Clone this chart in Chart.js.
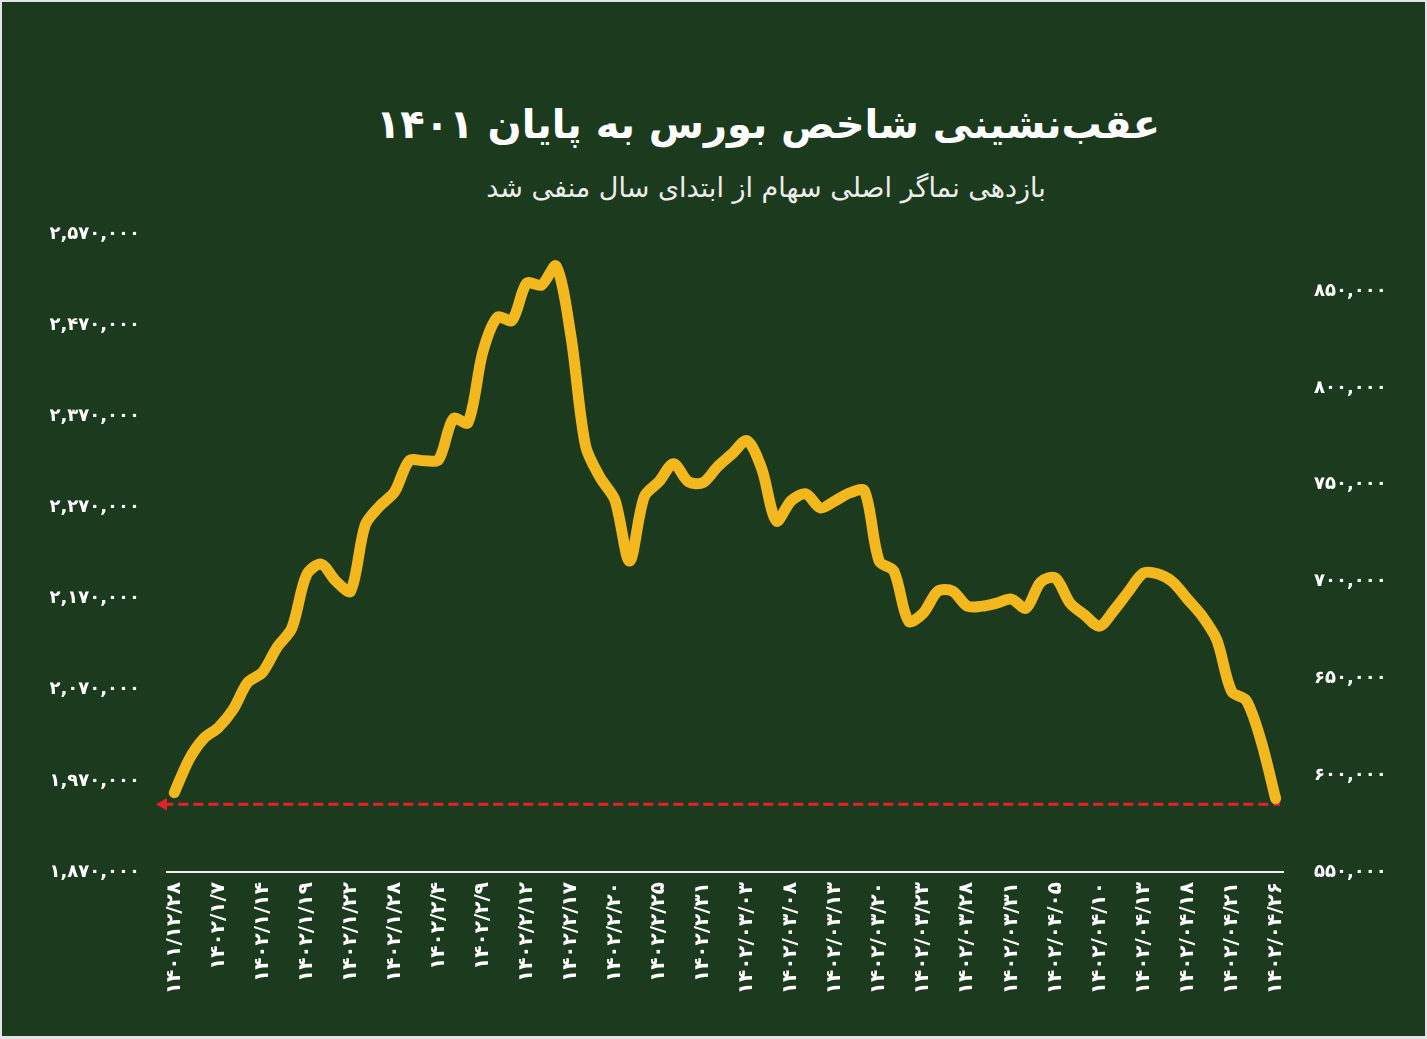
<!DOCTYPE html>
<html>
<head>
<meta charset="utf-8">
<script src="https://cdn.jsdelivr.net/npm/chart.js@4.4.0/dist/chart.umd.min.js"></script>
<style>
  html, body { margin: 0; padding: 0; width: 1427px; height: 1039px; overflow: hidden; background: #e4e4e4; }
  #frame { position: absolute; left: 2px; top: 2px; width: 1423px; height: 1034px; background: #1c3a1e; }
  .ttl { position: absolute; direction: rtl; text-align: center; color: #ffffff; font-family: "DejaVu Sans", "Noto Sans", sans-serif; white-space: nowrap; }
  #title { left: 268px; width: 1000px; top: 101px; font-size: 40px; font-weight: bold; }
  #subtitle { left: 266px; width: 1000px; top: 172px; font-size: 27px; color: #ededed; }
  #c { position: absolute; left: 0; top: 0; }
</style>
</head>
<body>
<div id="frame"></div>
<div id="title" class="ttl">عقب‌نشینی شاخص بورس به پایان ۱۴۰۱</div>
<div id="subtitle" class="ttl">بازدهی نماگر اصلی سهام از ابتدای سال منفی شد</div>
<canvas id="c" width="1427" height="1039"></canvas>
<script>
// ---- data ----
const xLabels = [
  '۱۴۰۱/۱۲/۲۸','۱۴۰۲/۱/۷','۱۴۰۲/۱/۱۴','۱۴۰۲/۱/۱۹','۱۴۰۲/۱/۲۲','۱۴۰۲/۱/۲۸',
  '۱۴۰۲/۲/۴','۱۴۰۲/۲/۹','۱۴۰۲/۲/۱۲','۱۴۰۲/۲/۱۷','۱۴۰۲/۲/۲۰','۱۴۰۲/۲/۲۵',
  '۱۴۰۲/۲/۳۱','۱۴۰۲/۰۳/۰۳','۱۴۰۲/۰۳/۰۸','۱۴۰۲/۰۳/۱۳','۱۴۰۲/۰۳/۲۰','۱۴۰۲/۰۳/۲۳',
  '۱۴۰۲/۰۳/۲۸','۱۴۰۲/۰۳/۳۱','۱۴۰۲/۰۴/۰۵','۱۴۰۲/۰۴/۱۰','۱۴۰۲/۰۴/۱۳','۱۴۰۲/۰۴/۱۸',
  '۱۴۰۲/۰۴/۲۱','۱۴۰۲/۰۴/۲۶'
];
// trading sessions per labelled date (one label every 3 sessions)
const sessionsPerLabel = 3;

// main index (شاخص کل), one value per session
const indexValues = [
  1957000, 1993300, 2016400, 2028500, 2048300, 2078000, 2089000, 2116600, 2137500, 2195800,
  2207900, 2189200, 2178200, 2250800, 2271700, 2287100, 2321300, 2321300, 2322400, 2367500,
  2363100, 2440100, 2478600, 2475300, 2516100, 2513900, 2534800, 2458800, 2337800, 2302600,
  2278300, 2211200, 2281600, 2298200, 2318000, 2298200, 2297100, 2314700, 2329000, 2343300,
  2312500, 2255200, 2277200, 2284900, 2269500, 2277200, 2286000, 2288200, 2211200, 2200200,
  2145200, 2154000, 2178200, 2178200, 2161700, 2161700, 2165000, 2169400, 2159500, 2188100,
  2192500, 2165000, 2151800, 2139700, 2157300, 2178200, 2198000, 2196900, 2188100, 2169400,
  2150700, 2124300, 2068100, 2058200, 2014200, 1950400
];

// reference level (start-of-year level) drawn as dashed arrow
const refLevel = 1944300;
const refSpan = [-0.75, 75.3];

const leftTicks  = [1870000, 1970000, 2070000, 2170000, 2270000, 2370000, 2470000, 2570000];
const rightTicks = [550000, 600000, 650000, 700000, 750000, 800000, 850000];
const rightMax = 879500;

// ---- helpers ----
const faDigits = '۰۱۲۳۴۵۶۷۸۹';
const toFa = s => String(s).replace(/\d/g, d => faDigits[+d]);
const fmt = v => toFa(Math.round(v).toLocaleString('en-US'));

const white = '#ffffff';
const tickFont = { family: 'DejaVu Sans', size: 18, weight: 'bold' };

new Chart(document.getElementById('c').getContext('2d'), {
  type: 'line',
  data: {
    datasets: [
      {
        data: indexValues.map((v, i) => ({ x: i, y: v })),
        borderColor: '#f3b81d',
        borderWidth: 11,
        tension: 0.3,
        pointRadius: 0,
        borderCapStyle: 'round',
        borderJoinStyle: 'round',
        yAxisID: 'y',
        clip: false
      },
      {
        data: refSpan.map(x => ({ x: x, y: refLevel })),
        borderColor: '#e5222b',
        borderWidth: 3,
        borderDash: [10, 5],
        pointStyle: 'triangle',
        pointRotation: -90,
        pointRadius: [7.3, 0],
        pointBackgroundColor: '#e5222b',
        pointBorderWidth: 0,
        yAxisID: 'y',
        clip: false
      }
    ]
  },
  options: {
    responsive: false,
    animation: false,
    devicePixelRatio: 1,
    layout: { padding: { left: 50, right: 44, top: 234, bottom: 10 } },
    plugins: { legend: { display: false }, tooltip: { enabled: false }, title: { display: false } },
    scales: {
      x: {
        type: 'linear',
        min: -0.5,
        max: (indexValues.length - 1) + 0.5,
        afterBuildTicks: s => { s.ticks = xLabels.map((_, i) => ({ value: i * sessionsPerLabel })); },
        afterFit: s => { s.height = 157; },
        grid: { display: false, drawTicks: false },
        border: { display: true, color: '#efefef', width: 2 },
        ticks: {
          color: white,
          font: { family: 'DejaVu Sans', size: 20, weight: 'bold' },
          autoSkip: false,
          maxRotation: 90,
          minRotation: 90,
          padding: 10,
          callback: v => xLabels[Math.round(v / sessionsPerLabel)]
        }
      },
      y: {
        position: 'left',
        min: leftTicks[0],
        max: leftTicks[leftTicks.length - 1],
        afterBuildTicks: s => { s.ticks = leftTicks.map(v => ({ value: v })); },
        afterFit: s => { s.width = 117; },
        grid: { display: false, drawTicks: false },
        border: { display: false },
        ticks: { color: white, font: tickFont, padding: 27, callback: v => fmt(v) }
      },
      y2: {
        position: 'right',
        min: rightTicks[0],
        max: rightMax,
        afterBuildTicks: s => { s.ticks = rightTicks.map(v => ({ value: v })); },
        afterFit: s => { s.width = 100; },
        grid: { display: false, drawTicks: false },
        border: { display: false },
        ticks: { color: white, font: tickFont, padding: 31, callback: v => fmt(v) }
      }
    }
  }
});
</script>
</body>
</html>
